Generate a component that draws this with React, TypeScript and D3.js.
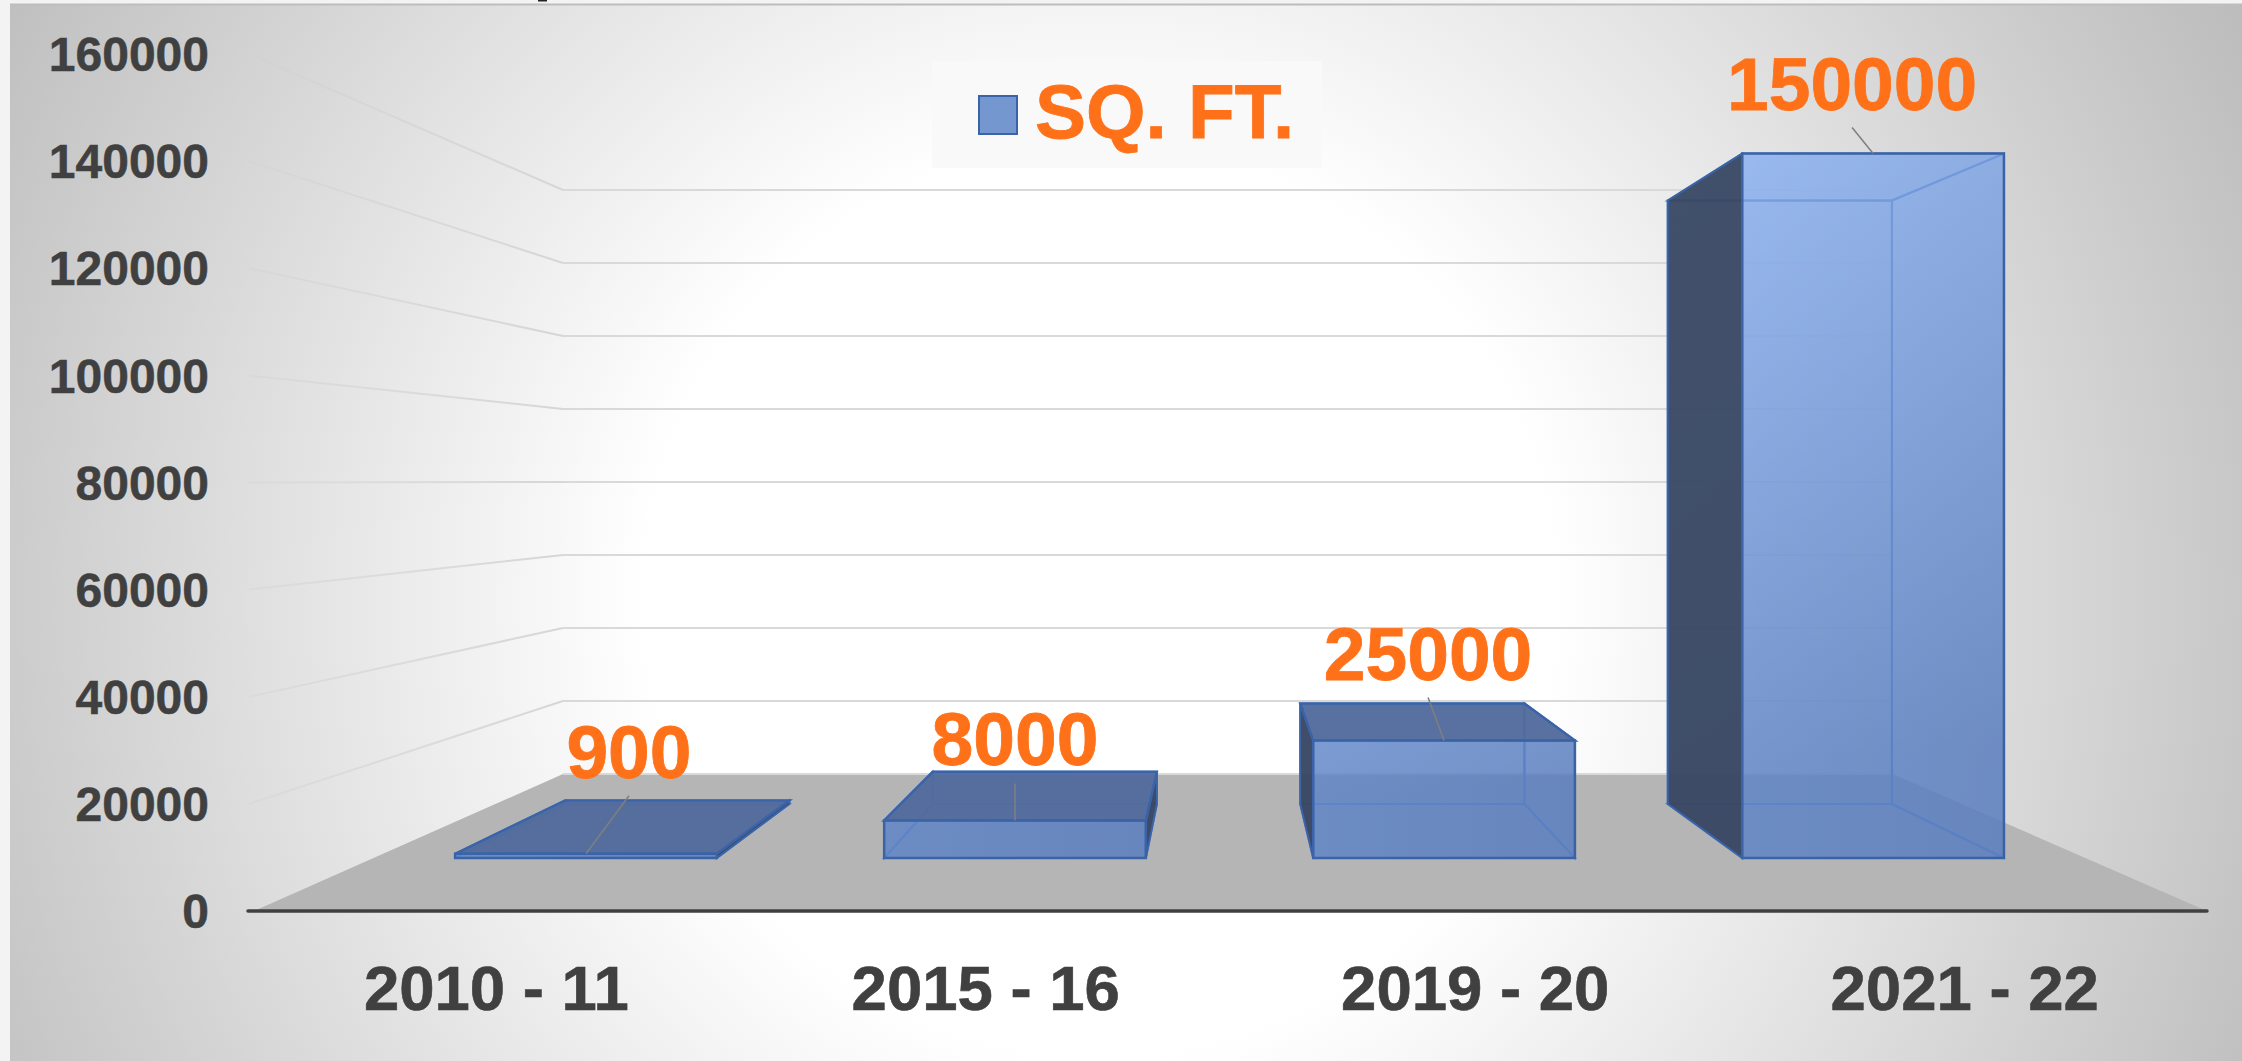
import React from "react";
import * as d3 from "d3";

const categories = ["2010 - 11", "2015 - 16", "2019 - 20", "2021 - 22"];
const sqFt = [900, 8000, 25000, 150000];
const yTicks = [0, 20000, 40000, 60000, 80000, 100000, 120000, 140000, 160000];
const seriesName = "SQ. FT.";

// where each data label's leader line ends, relative to the bar's front top edge
const leaderDx = [43, 0, -16, -21];
const leaderDy = [58, 37, 43, 26];

const width = 2242;
const height = 1061;

// the 3D box is just two planes: back wall and front edge of the floor
const yBack = d3.scaleLinear().domain([0, 160000]).range([774, 190]);
const yFront = d3.scaleLinear().domain([0, 160000]).range([911, 54]);
const xBack = d3.scaleLinear().domain([0, 1]).range([563, 1893]);
const xFront = d3.scaleLinear().domain([0, 1]).range([254, 2207]);
const band = d3.scaleBand().domain(categories).range([0, 1]).paddingInner(0.39).paddingOuter(0.19);

const barBackDepth = 0.219;
const barFrontDepth = 0.613;

const xAt = (u: number, t: number) => d3.interpolateNumber(xBack(u), xFront(u))(t);
const yAt = (v: number, t: number) => d3.interpolateNumber(yBack(v), yFront(v))(t);

const quad = d3.line().curve(d3.curveLinearClosed);

const font = "'Liberation Sans', Arial, sans-serif";
const textColor = "#404040";
const orange = "#FF7119";
const edge = "#3B64A8";
const innerEdge = "#5C86CC";

function Bar({ name, value, i }: { name: string; value: number; i: number }) {
  const u0 = band(name) as number;
  const u1 = u0 + band.bandwidth();
  const p = (u: number, v: number, t: number): [number, number] => [xAt(u, t), yAt(v, t)];
  const [b, f] = [barBackDepth, barFrontDepth];

  const faces = {
    back: [p(u0, 0, b), p(u1, 0, b), p(u1, value, b), p(u0, value, b)],
    bottom: [p(u0, 0, b), p(u1, 0, b), p(u1, 0, f), p(u0, 0, f)],
    left: [p(u0, 0, b), p(u0, 0, f), p(u0, value, f), p(u0, value, b)],
    right: [p(u1, 0, b), p(u1, 0, f), p(u1, value, f), p(u1, value, b)],
    top: [p(u0, value, b), p(u1, value, b), p(u1, value, f), p(u0, value, f)],
    front: [p(u0, 0, f), p(u1, 0, f), p(u1, value, f), p(u0, value, f)],
  };

  // a side is seen from outside when its back edge sticks out past the front edge
  const leftOutside = xAt(u0, b) < xAt(u0, f);
  const rightOutside = xAt(u1, b) > xAt(u1, f);
  const topOutside = yAt(value, f) > yAt(value, b);

  const light = (pts: [number, number][], key: string) => (
    <path key={key} d={quad(pts) as string} fill="url(#barFill)" fillOpacity={0.6} stroke={innerEdge} strokeWidth={2} />
  );
  const side = (pts: [number, number][], key: string) => (
    <path key={key} d={quad(pts) as string} fill="#35435c" fillOpacity={0.9} stroke={edge} strokeWidth={2} />
  );
  const top = (pts: [number, number][]) => (
    <path d={quad(pts) as string} fill="#50699a" fillOpacity={0.9} stroke={edge} strokeWidth={2.5} />
  );

  const tipX = (p(u0, value, f)[0] + p(u1, value, f)[0]) / 2;
  const tipY = p(u0, value, f)[1];
  const endX = tipX + leaderDx[i];
  const endY = tipY - leaderDy[i];

  return (
    <g>
      {light(faces.back, "back")}
      {light(faces.bottom, "bottom")}
      {!leftOutside && light(faces.left, "left")}
      {!rightOutside && light(faces.right, "right")}
      {!topOutside && light(faces.top, "topLight")}
      {leftOutside && side(faces.left, "leftDark")}
      {rightOutside && side(faces.right, "rightDark")}
      {topOutside && top(faces.top)}
      <path d={quad(faces.front) as string} fill="url(#barFill)" fillOpacity={0.6} stroke={edge} strokeWidth={2.5} />
      <path d={quad(faces.front) as string} fill="url(#barShade)" />
      <line x1={tipX} y1={tipY} x2={endX} y2={endY} stroke="#7f7f7f" strokeWidth={1.5} />
      <text
        x={endX}
        y={endY - 18}
        textAnchor="middle"
        fontFamily={font}
        fontWeight="bold"
        fontSize={75}
        fill={orange}
        stroke={orange}
        strokeWidth={0.8}
      >
        {value}
      </text>
    </g>
  );
}

export default function App() {
  const floor: [number, number][] = [
    [xFront(0), yFront(0)],
    [xBack(0), yBack(0)],
    [xBack(1), yBack(0)],
    [xFront(1), yFront(0)],
  ];

  return (
    <svg width={width} height={height} style={{ position: "fixed", left: 0, top: 0 }}>
      <defs>
        <radialGradient id="panelBg" gradientUnits="userSpaceOnUse" cx={1100} cy={600} r={1300}>
          <stop offset="0.35" stopColor="#ffffff" />
          <stop offset="1" stopColor="#bbbbbb" />
        </radialGradient>
        <linearGradient id="barFill" gradientUnits="userSpaceOnUse" x1={1750} y1={150} x2={1800} y2={760}>
          <stop offset="0" stopColor="rgb(138,177,241)" />
          <stop offset="1" stopColor="rgb(94,132,198)" />
        </linearGradient>
        <linearGradient id="barShade" x1="0" y1="0" x2="1" y2="0">
          <stop offset="0" stopColor="#1c2f55" stopOpacity={0} />
          <stop offset="1" stopColor="#1c2f55" stopOpacity={0.06} />
        </linearGradient>
        <linearGradient id="wallLine" gradientUnits="userSpaceOnUse" x1={xFront(0) - 5} y1={0} x2={xBack(0)} y2={0}>
          <stop offset="0" stopColor="#cfcfcf" stopOpacity={0.3} />
          <stop offset="1" stopColor="#d6d6d6" />
        </linearGradient>
      </defs>

      <rect width={width} height={height} fill="#f3f3f3" />
      <rect x={538} y={0} width={9} height={1.5} fill="#222" />
      <rect x={10} y={5} width={width - 10} height={height - 5} fill="url(#panelBg)" />
      <line x1={10} y1={4.5} x2={width} y2={4.5} stroke="#bdbdbd" strokeWidth={2} />

      <path d={quad(floor) as string} fill="#b5b5b5" />

      {yTicks.map((v) => (
        <g key={v}>
          {v > 0 && (
            <line x1={xFront(0) - 5} y1={yFront(v)} x2={xBack(0)} y2={yBack(v)} stroke="url(#wallLine)" strokeWidth={2} />
          )}
          <line x1={xBack(0)} y1={yBack(v)} x2={xBack(1)} y2={yBack(v)} stroke="#d9d9d9" strokeWidth={2} />
          <text
            x={209}
            y={yFront(v)}
            dy="0.358em"
            textAnchor="end"
            fontFamily={font}
            fontWeight="bold"
            fontSize={48}
            fill={textColor}
            stroke={textColor}
            strokeWidth={0.5}
          >
            {v}
          </text>
        </g>
      ))}

      <line x1={xFront(0) - 6} y1={yFront(0)} x2={xFront(1)} y2={yFront(0)} stroke={textColor} strokeWidth={3.5} strokeLinecap="round" />

      {categories.map((c, i) => (
        <Bar key={c} name={c} value={sqFt[i]} i={i} />
      ))}

      {categories.map((c) => (
        <text
          key={c}
          x={xFront((band(c) as number) + band.bandwidth() / 2)}
          y={1010}
          textAnchor="middle"
          fontFamily={font}
          fontWeight="bold"
          fontSize={63.5}
          fill={textColor}
          stroke={textColor}
          strokeWidth={0.6}
        >
          {c}
        </text>
      ))}

      <g>
        <rect x={932} y={61} width={390} height={107} fill="#f9f9f9" />
        <rect x={979} y={96} width={38} height={38} fill="#7597cf" stroke={edge} strokeWidth={2} />
        <text
          x={1035}
          y={138}
          fontFamily={font}
          fontWeight="bold"
          fontSize={76.5}
          fill={orange}
          stroke={orange}
          strokeWidth={0.8}
        >
          {seriesName}
        </text>
      </g>
    </svg>
  );
}
